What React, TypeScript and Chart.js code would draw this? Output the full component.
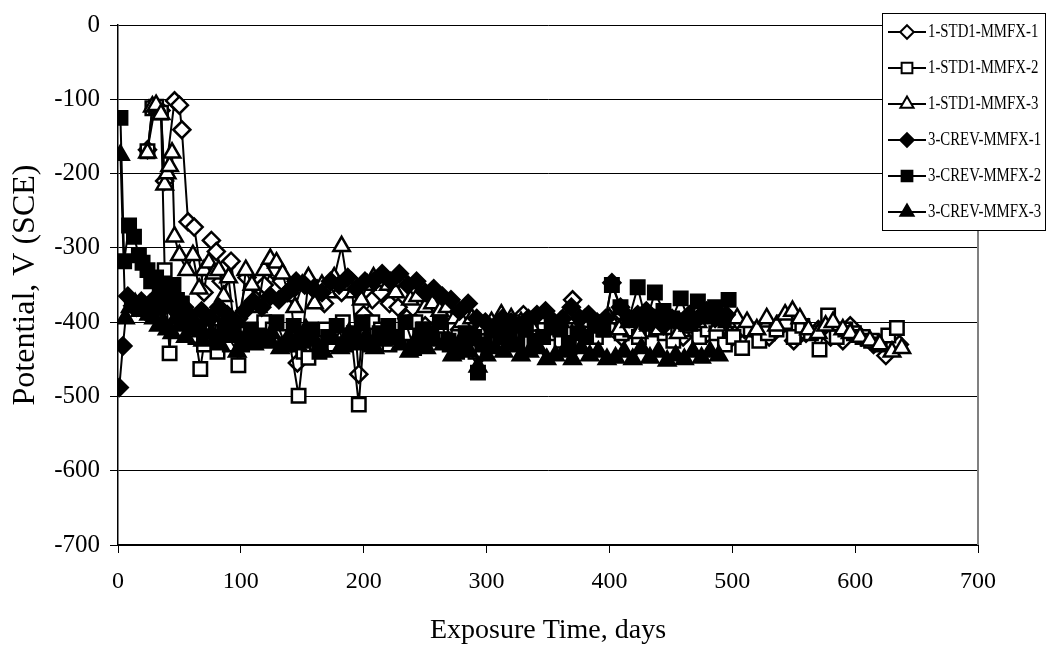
import React, { useEffect, useRef } from "react";
import { Chart, registerables } from "chart.js";

Chart.register(...registerables);

const FONT = "'Liberation Serif', 'Times New Roman', serif";

const xTickValues = [0, 100, 200, 300, 400, 500, 600, 700];
const yTickValues = [0, -100, -200, -300, -400, -500, -600, -700];
const xTitle = "Exposure Time, days";
const yTitle = "Potential, V (SCE)";

const seriesNames = [
  "1-STD1-MMFX-1",
  "1-STD1-MMFX-2",
  "1-STD1-MMFX-3",
  "3-CREV-MMFX-1",
  "3-CREV-MMFX-2",
  "3-CREV-MMFX-3",
];

// [day, potential mV]
const std1_1: [number, number][] = [
  [24, -168], [30, -112], [35, -115], [38, -210], [46, -102], [50, -108], [52, -141], [57, -265],
  [62, -272], [70, -360], [76, -290], [80, -305], [84, -345], [88, -325], [92, -318], [98, -395],
  [105, -340], [112, -370], [119, -350], [126, -330], [133, -345], [140, -360], [146, -455], [150, -420],
  [155, -345], [162, -355], [168, -375], [175, -350], [182, -360], [190, -345], [196, -470], [200, -390],
  [207, -370], [214, -360], [221, -375], [228, -380], [235, -395], [242, -400], [250, -405], [257, -410],
  [264, -400], [271, -405], [278, -410], [285, -405], [292, -420], [300, -405], [310, -410], [320, -400],
  [330, -390], [340, -405], [350, -395], [360, -400], [370, -370], [380, -395], [390, -410], [400, -395],
  [410, -420], [420, -405], [430, -410], [440, -400], [450, -415], [460, -420], [470, -405], [480, -415],
  [490, -410], [500, -420], [510, -410], [520, -415], [530, -420], [540, -405], [550, -425], [560, -415],
  [570, -410], [580, -420], [590, -425], [596, -405], [605, -420], [615, -430], [625, -445], [636, -430],
];

const std1_2: [number, number][] = [
  [24, -170], [28, -112], [31, -110], [35, -118], [38, -330], [42, -442], [45, -350], [49, -380],
  [52, -390], [56, -400], [63, -420], [67, -463], [70, -430], [74, -410], [77, -395], [81, -440],
  [84, -420], [88, -400], [91, -430], [95, -410], [98, -458], [105, -415], [112, -425], [119, -400],
  [126, -410], [133, -420], [140, -430], [147, -499], [151, -440], [155, -448], [162, -420], [169, -410],
  [176, -430], [183, -400], [190, -420], [196, -511], [200, -420], [207, -400], [214, -410], [221, -430],
  [228, -420], [235, -415], [242, -400], [249, -410], [256, -420], [263, -405], [270, -430], [277, -420],
  [284, -410], [291, -440], [298, -425], [305, -410], [312, -420], [319, -415], [326, -400], [333, -410],
  [340, -420], [347, -405], [354, -415], [361, -425], [368, -410], [375, -400], [382, -415], [389, -420],
  [396, -410], [403, -405], [410, -415], [417, -410], [424, -420], [431, -400], [438, -410], [445, -415],
  [452, -425], [459, -410], [466, -405], [473, -420], [480, -410], [487, -415], [494, -430], [501, -420],
  [508, -435], [515, -410], [522, -425], [529, -415], [536, -410], [543, -400], [550, -420], [557, -405],
  [564, -415], [571, -437], [578, -391], [585, -420], [592, -410], [599, -415], [606, -420], [613, -425],
  [620, -430], [627, -418], [634, -408],
];

const std1_3: [number, number][] = [
  [24, -172], [28, -110], [31, -108], [35, -120], [38, -215], [40, -200], [42, -190], [44, -172],
  [46, -285], [50, -310], [56, -330], [61, -310], [66, -355], [70, -330], [74, -320], [78, -335],
  [82, -330], [86, -365], [90, -340], [94, -400], [98, -420], [104, -330], [109, -350], [114, -380],
  [119, -330], [124, -315], [129, -320], [134, -335], [139, -365], [144, -380], [150, -350], [155, -340],
  [160, -375], [166, -350], [171, -360], [176, -340], [182, -298], [187, -350], [192, -360], [198, -370],
  [203, -350], [208, -340], [214, -345], [220, -350], [226, -360], [232, -345], [238, -370], [244, -365],
  [250, -380], [256, -375], [262, -385], [268, -380], [274, -395], [280, -400], [288, -395], [296, -410],
  [304, -400], [312, -390], [320, -395], [328, -400], [336, -405], [344, -395], [352, -410], [360, -400],
  [368, -395], [376, -410], [384, -400], [392, -405], [400, -395], [408, -410], [416, -400], [424, -415],
  [432, -405], [440, -410], [448, -400], [456, -415], [464, -405], [472, -400], [480, -395], [488, -405],
  [496, -400], [504, -395], [512, -400], [520, -410], [528, -395], [536, -405], [543, -390], [549, -385],
  [555, -395], [562, -410], [570, -415], [576, -405], [582, -400], [590, -410], [596, -415], [604, -420],
  [612, -425], [620, -430], [630, -440], [638, -435],
];

const crev_1: [number, number][] = [
  [1, -488], [4, -432], [8, -365], [12, -378], [15, -380], [19, -372], [22, -385], [26, -375],
  [29, -370], [33, -378], [36, -382], [40, -375], [43, -370], [47, -385], [50, -390], [54, -380],
  [57, -392], [61, -400], [68, -385], [75, -395], [82, -380], [89, -390], [96, -400], [103, -385],
  [110, -372], [117, -380], [124, -365], [131, -370], [138, -360], [145, -345], [152, -350], [159, -355],
  [166, -360], [173, -345], [180, -350], [187, -340], [194, -355], [201, -345], [208, -345], [215, -335],
  [222, -345], [229, -335], [236, -350], [243, -345], [250, -360], [257, -355], [264, -365], [271, -370],
  [278, -385], [285, -375], [292, -395], [299, -400], [306, -410], [313, -395], [320, -400], [327, -405],
  [334, -395], [341, -390], [348, -385], [355, -400], [362, -395], [369, -380], [376, -395], [383, -390],
  [390, -400], [397, -395], [402, -347], [409, -380], [416, -395], [423, -390], [430, -385], [437, -395],
  [444, -405], [451, -395], [458, -400], [465, -390], [472, -395], [479, -385], [486, -395], [495, -390],
];

const crev_2: [number, number][] = [
  [2, -125], [5, -318], [9, -270], [13, -285], [17, -310], [20, -320], [24, -330], [27, -345],
  [31, -340], [34, -350], [38, -360], [41, -355], [45, -350], [48, -370], [52, -375], [55, -390],
  [59, -400], [66, -410], [73, -395], [80, -420], [87, -405], [94, -415], [101, -430], [108, -410],
  [115, -420], [122, -425], [129, -400], [136, -430], [143, -405], [150, -425], [157, -410], [164, -440],
  [171, -420], [178, -405], [185, -430], [192, -415], [199, -400], [206, -430], [213, -415], [220, -405],
  [227, -420], [234, -400], [241, -435], [248, -410], [255, -415], [262, -400], [269, -425], [276, -440],
  [283, -415], [290, -420], [293, -468], [297, -430], [304, -410], [311, -420], [318, -415], [325, -430],
  [332, -410], [339, -425], [346, -420], [353, -405], [360, -410], [367, -430], [374, -415], [381, -420],
  [388, -405], [395, -410], [402, -350], [409, -380], [416, -395], [423, -353], [430, -400], [437, -360],
  [444, -385], [451, -395], [458, -368], [465, -400], [472, -372], [479, -390], [486, -380], [493, -395],
  [497, -370],
];

const crev_3: [number, number][] = [
  [2, -175], [6, -395], [10, -380], [14, -375], [18, -385], [22, -380], [25, -390], [29, -395],
  [33, -405], [37, -400], [40, -410], [44, -415], [47, -395], [51, -405], [55, -420], [62, -410],
  [69, -425], [76, -415], [83, -430], [90, -420], [97, -440], [104, -420], [111, -430], [118, -425],
  [125, -415], [132, -435], [139, -420], [146, -430], [153, -410], [160, -425], [167, -440], [174, -420],
  [181, -435], [188, -415], [195, -430], [202, -420], [209, -435], [216, -425], [223, -415], [230, -430],
  [237, -440], [244, -420], [251, -435], [258, -425], [265, -430], [272, -445], [279, -425], [286, -440],
  [293, -460], [300, -445], [307, -435], [314, -440], [321, -430], [328, -445], [335, -440], [342, -435],
  [349, -450], [356, -445], [363, -440], [370, -450], [377, -435], [384, -445], [391, -440], [398, -450],
  [405, -448], [412, -440], [419, -450], [426, -435], [433, -448], [440, -440], [447, -452], [454, -445],
  [461, -450], [468, -440], [475, -448], [482, -440], [489, -445],
];

const seriesData = [std1_1, std1_2, std1_3, crev_1, crev_2, crev_3];
const pointStyles = ["rectRot", "rect", "triangle", "rectRot", "rect", "triangle"];
const filled = [false, false, false, true, true, true];
const radii = [8.5, 9.5, 9.5, 8.5, 9.5, 9.5];

function drawMarker(ctx: CanvasRenderingContext2D, style: string, x: number, y: number, r: number, fill: boolean) {
  ctx.beginPath();
  if (style === "rectRot") {
    ctx.moveTo(x, y - r);
    ctx.lineTo(x + r, y);
    ctx.lineTo(x, y + r);
    ctx.lineTo(x - r, y);
  } else if (style === "rect") {
    const s = Math.SQRT1_2 * r;
    ctx.rect(x - s, y - s, 2 * s, 2 * s);
  } else {
    const a = (Math.PI * 2) / 3;
    ctx.moveTo(x, y - r);
    ctx.lineTo(x + Math.sin(a) * r, y - Math.cos(a) * r);
    ctx.lineTo(x - Math.sin(a) * r, y - Math.cos(a) * r);
  }
  ctx.closePath();
  ctx.fillStyle = fill ? "#000" : "#fff";
  ctx.fill();
  ctx.lineWidth = 2;
  ctx.strokeStyle = "#000";
  ctx.stroke();
}

const legendPlugin = {
  id: "customLegend",
  afterDraw(chart: any) {
    const ctx: CanvasRenderingContext2D = chart.ctx;
    const area = chart.chartArea;
    ctx.save();
    // plot area border (right side grey)
    ctx.strokeStyle = "#808080";
    ctx.lineWidth = 2;
    ctx.beginPath();
    ctx.moveTo(area.right, area.top);
    ctx.lineTo(area.right, area.bottom);
    ctx.stroke();

    const bx = 882, by = 13, bw = 164, bh = 218;
    ctx.fillStyle = "#fff";
    ctx.fillRect(bx, by, bw, bh);
    ctx.strokeStyle = "#000";
    ctx.lineWidth = 1;
    ctx.strokeRect(bx + 0.5, by + 0.5, bw - 1, bh - 1);
    ctx.font = `19px ${FONT}`;
    ctx.textBaseline = "middle";
    ctx.textAlign = "left";
    seriesNames.forEach((name, i) => {
      const cy = by + 19 + i * 36;
      ctx.strokeStyle = "#000";
      ctx.lineWidth = 2;
      ctx.beginPath();
      ctx.moveTo(bx + 6, cy);
      ctx.lineTo(bx + 44, cy);
      ctx.stroke();
      drawMarker(ctx, pointStyles[i], bx + 25, cy, radii[i] * 0.8, filled[i]);
      ctx.save();
      ctx.translate(bx + 46, cy);
      ctx.scale(0.78, 1);
      ctx.fillStyle = "#000";
      ctx.fillText(name, 0, 0);
      ctx.restore();
    });
    ctx.restore();
  },
};

export default function App() {
  const canvasRef = useRef<HTMLCanvasElement | null>(null);

  useEffect(() => {
    if (!canvasRef.current) return;
    const datasets = seriesData.map((arr, i) => ({
      label: seriesNames[i],
      data: arr.map(([x, y]) => ({ x, y })),
      borderColor: "#000",
      borderWidth: 2,
      backgroundColor: filled[i] ? "#000" : "#fff",
      pointStyle: pointStyles[i],
      pointRadius: radii[i],
      pointBorderWidth: 2.5,
      pointBorderColor: "#000",
      pointBackgroundColor: filled[i] ? "#000" : "#fff",
      showLine: true,
      tension: 0,
      order: 6 - i,
    }));

    const chart = new Chart(canvasRef.current, {
      type: "line",
      data: { datasets },
      options: {
        animation: false,
        responsive: false,
        maintainAspectRatio: false,
        layout: { padding: { left: 0, top: 17, right: 70, bottom: 0 } },
        plugins: {
          legend: { display: false },
          tooltip: { enabled: false },
        },
        scales: {
          x: {
            type: "linear",
            min: 0,
            max: 700,
            afterBuildTicks: (s: any) => {
              s.ticks = xTickValues.map((v) => ({ value: v }));
            },
            afterFit: (s: any) => {
              s.height = 103;
            },
            ticks: {
              font: { family: FONT, size: 24 },
              color: "#000",
              padding: 14,
              maxRotation: 0,
            },
            grid: {
              drawOnChartArea: false,
              drawTicks: true,
              tickLength: 8,
              color: "#000",
              lineWidth: 1,
            },
            border: { display: true, color: "#000", width: 2 },
            title: {
              display: true,
              text: xTitle,
              font: { family: FONT, size: 28 },
              color: "#000",
              padding: { top: 4, bottom: 1 },
            },
          },
          y: {
            type: "linear",
            min: -700,
            max: 0,
            afterBuildTicks: (s: any) => {
              s.ticks = yTickValues.map((v) => ({ value: v }));
            },
            afterFit: (s: any) => {
              s.width = 118;
            },
            ticks: {
              font: { family: FONT, size: 25 },
              color: "#000",
              padding: 10,
            },
            grid: {
              drawTicks: true,
              tickLength: 8,
              color: "#000",
              lineWidth: 1,
            },
            border: { display: true, color: "#000", width: 1.5 },
            title: {
              display: true,
              text: yTitle,
              font: { family: FONT, size: 32 },
              color: "#000",
              padding: { top: 6, bottom: 6 },
            },
          },
        },
      },
      plugins: [legendPlugin],
    });
    return () => chart.destroy();
  }, []);

  return (
    <div style={{ position: "fixed", left: 0, top: 0, width: 1048, height: 648, background: "#fff" }}>
      <canvas ref={canvasRef} width={1048} height={648} style={{ width: 1048, height: 648, display: "block" }} />
    </div>
  );
}
